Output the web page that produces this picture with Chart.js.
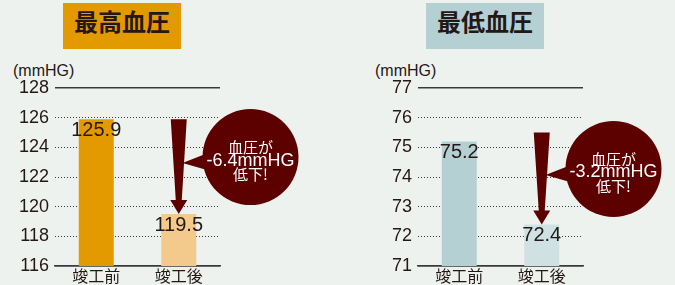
<!DOCTYPE html>
<html>
<head>
<meta charset="utf-8">
<script src="https://cdn.jsdelivr.net/npm/chart.js@4"></script>
<style>
  html, body { margin: 0; padding: 0; background: #eef2ef; }
  body { width: 675px; height: 285px; position: relative; overflow: hidden; }
  canvas { position: absolute; top: 0; }
  .title {
    position: absolute; top: 3px; width: 118px; height: 46px; line-height: 46px;
    text-align: center; font: bold 24px "Noto Sans CJK JP", sans-serif; color: #231815;
  }
  .unit {
    position: absolute; top: 62px; height: 18px; line-height: 18px;
    font: 16px "Liberation Sans", Arial, sans-serif; color: #231815;
  }
</style>
</head>
<body>
<div class="title" style="left:63px;background:#e39a00">最高血圧</div>
<div class="title" style="left:426px;background:#b5d0d3">最低血圧</div>
<div class="unit" style="left:13px">(mmHG)</div>
<div class="unit" style="left:375px">(mmHG)</div>
<canvas id="sysChart" width="337" height="285" style="left:0"></canvas>
<canvas id="diaChart" width="338" height="285" style="left:337px"></canvas>
<script>
const categories = ['竣工前', '竣工後'];

const systolicValues = [125.9, 119.5];
const systolicColors = ['#e39a00', '#f3ca8c'];
const systolicRange = [116, 128];
const systolicStep = 2;
const systolicArrow = [125.9, 119.5];
const systolicNote = ['血圧が', '-6.4mmHG', '低下!'];

const diastolicValues = [75.2, 72.4];
const diastolicColors = ['#b5d0d3', '#cfe1e3'];
const diastolicRange = [71, 77];
const diastolicStep = 1;
const diastolicArrow = [75.5, 72.4];
const diastolicNote = ['血圧が', '-3.2mmHG', '低下!'];

const ink = '#231815';
const maroon = '#5c0000';

const decor = {
  id: 'decor',
  afterDatasetsDraw(chart, args, opts) {
    const ctx = chart.ctx;
    const ys = chart.scales.y;
    const bars = chart.getDatasetMeta(0).data;
    const values = chart.data.datasets[0].data;

    ctx.save();
    // value labels on bars
    ctx.font = '20px "Liberation Sans", Arial, sans-serif';
    ctx.fillStyle = ink;
    ctx.textAlign = 'center';
    ctx.textBaseline = 'alphabetic';
    bars.forEach((bar, i) => {
      ctx.fillText(values[i].toFixed(1), bar.x, bar.y + 17);
    });

    // arrow
    const ax = bars[1].x;
    const top = ys.getPixelForValue(opts.arrow[0]);
    const tip = ys.getPixelForValue(opts.arrow[1]);
    const headH = 14;
    ctx.fillStyle = maroon;
    ctx.beginPath();
    ctx.moveTo(ax - 8, top);
    ctx.lineTo(ax + 8, top);
    ctx.lineTo(ax + 3, tip - headH);
    ctx.lineTo(ax + 8.5, tip - headH);
    ctx.lineTo(ax, tip);
    ctx.lineTo(ax - 8.5, tip - headH);
    ctx.lineTo(ax - 3, tip - headH);
    ctx.closePath();
    ctx.fill();

    // callout bubble
    const r = 48;
    const cx = chart.chartArea.right + 30.5;
    const cy = (top + tip) / 2 - 9.5;
    ctx.beginPath();
    ctx.arc(cx, cy, r, 0, Math.PI * 2);
    ctx.fill();
    ctx.beginPath();
    ctx.moveTo(cx - r - 20, cy + 6);
    ctx.lineTo(cx - r + 8, cy - 5);
    ctx.lineTo(cx - r + 8, cy + 14);
    ctx.closePath();
    ctx.fill();

    ctx.fillStyle = '#ffffff';
    ctx.textBaseline = 'middle';
    ctx.font = '15px "Noto Sans CJK JP", sans-serif';
    ctx.fillText(opts.note[0], cx, cy - 10);
    ctx.font = '18px "Liberation Sans", Arial, sans-serif';
    ctx.fillText(opts.note[1], cx, cy + 3.5);
    ctx.font = '15px "Noto Sans CJK JP", sans-serif';
    ctx.fillText(opts.note[2], cx, cy + 17.5);
    ctx.restore();
  }
};

function renderBars(id, values, colors, range, step, arrow, note, axisWidth, padRight) {
  new Chart(document.getElementById(id), {
    type: 'bar',
    data: {
      labels: categories,
      datasets: [{
        data: values,
        backgroundColor: colors,
        barPercentage: 0.424,
        categoryPercentage: 1
      }]
    },
    options: {
      responsive: false,
      animation: false,
      devicePixelRatio: 1,
      layout: { padding: { top: 88, right: padRight, left: 0, bottom: 0 } },
      plugins: {
        legend: { display: false },
        tooltip: { enabled: false },
        decor: { arrow: arrow, note: note }
      },
      scales: {
        x: {
          grid: { display: false },
          border: { display: true, color: '#3a3a3a', width: 1.5 },
          ticks: {
            color: ink,
            padding: -8,
            font: { family: '"Noto Sans CJK JP", sans-serif', size: 16 }
          },
          afterFit: s => { s.height = 19; }
        },
        y: {
          min: range[0],
          max: range[1],
          grid: {
            drawTicks: false,
            color: '#3a3a3a',
            lineWidth: c => (c.tick && (c.tick.value === range[0] || c.tick.value === range[1])) ? 1.5 : 1
          },
          border: {
            display: false,
            dash: c => (c.tick && (c.tick.value === range[0] || c.tick.value === range[1])) ? [] : [1, 2]
          },
          ticks: {
            stepSize: step,
            color: ink,
            padding: 6,
            font: { family: '"Liberation Sans", Arial, sans-serif', size: 18 }
          },
          afterFit: s => { s.width = axisWidth; }
        }
      }
    },
    plugins: [decor]
  });
}

renderBars('sysChart', systolicValues, systolicColors, systolicRange, systolicStep, systolicArrow, systolicNote, 55, 117);
renderBars('diaChart', diastolicValues, diastolicColors, diastolicRange, diastolicStep, diastolicArrow, diastolicNote, 81, 92);
</script>
</body>
</html>
